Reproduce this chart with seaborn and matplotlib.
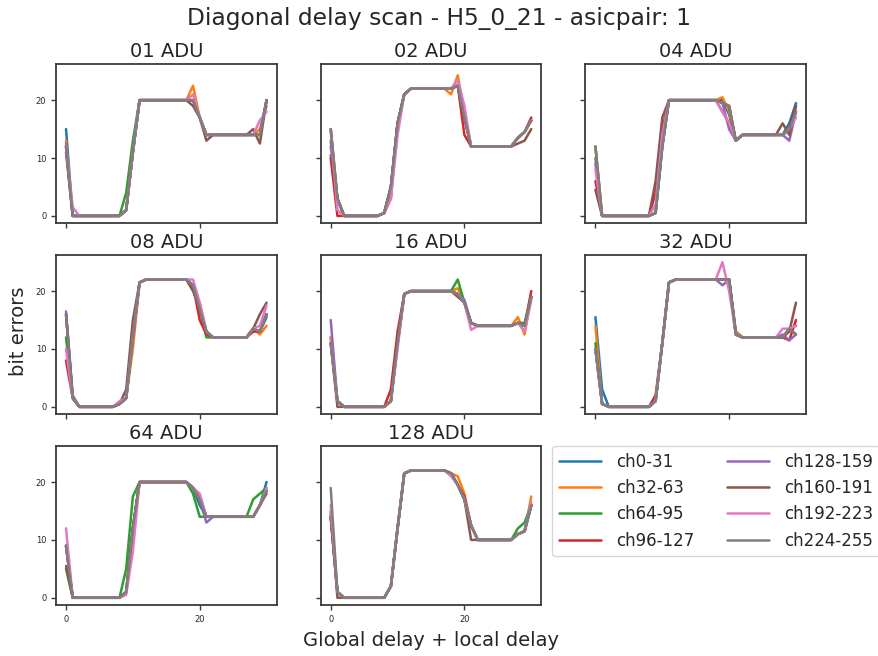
import matplotlib
matplotlib.use("Agg")
import matplotlib.pyplot as plt
import seaborn as sns
import pandas as pd

sns.set_style("ticks")
plt.rcParams['font.family'] = ['DejaVu Sans']

delays = list(range(31))
channels = ["ch0-31", "ch32-63", "ch64-95", "ch96-127",
            "ch128-159", "ch160-191", "ch192-223", "ch224-255"]
colors = ["#1f77b4", "#ff7f0e", "#2ca02c", "#d62728",
          "#9467bd", "#8c564b", "#e377c2", "#7f7f7f"]
titles = ["01 ADU", "02 ADU", "04 ADU", "08 ADU",
          "16 ADU", "32 ADU", "64 ADU", "128 ADU"]

# common (ch224-255) curve read for each amplitude
base_01 = [12, 0, 0, 0, 0, 0, 0, 0, 0, 1, 11, 20, 20, 20, 20, 20, 20, 20, 20, 20, 17, 14, 14, 14, 14, 14, 14, 14, 14, 14, 20]
base_02 = [15, 3, 0, 0, 0, 0, 0, 0, 0.5, 5, 16, 21, 22, 22, 22, 22, 22, 22, 22, 22.5, 17, 12, 12, 12, 12, 12, 12, 12, 13.5, 14.5, 16.5]
base_04 = [12, 0, 0, 0, 0, 0, 0, 0, 0, 0.5, 12, 20, 20, 20, 20, 20, 20, 20, 20, 19.5, 19, 13, 14, 14, 14, 14, 14, 14, 14, 15, 18]
base_08 = [16, 1.5, 0, 0, 0, 0, 0, 0, 0.5, 1.5, 12, 21.5, 22, 22, 22, 22, 22, 22, 22, 21, 17, 13, 12, 12, 12, 12, 12, 12, 13.5, 13, 16]
base_16 = [11, 1, 0, 0, 0, 0, 0, 0, 0, 1, 11, 19.5, 20, 20, 20, 20, 20, 20, 20, 19.5, 18, 14.5, 14, 14, 14, 14, 14, 14, 14.5, 14, 19]
base_32 = [10, 0.5, 0, 0, 0, 0, 0, 0, 0, 1, 11, 21.5, 22, 22, 22, 22, 22, 22, 22, 22, 22, 12.5, 12, 12, 12, 12, 12, 12, 12, 13.5, 12.5]
base_64 = [9, 0, 0, 0, 0, 0, 0, 0, 0, 1, 12, 20, 20, 20, 20, 20, 20, 20, 20, 19, 17, 14, 14, 14, 14, 14, 14, 14, 14, 16, 18.5]
base_128 = [19, 1, 0, 0, 0, 0, 0, 0, 0, 2, 12, 21.5, 22, 22, 22, 22, 22, 22, 21.5, 19.5, 17, 12.5, 10, 10, 10, 10, 10, 10, 11, 11.5, 16]

# points where a channel group departs from the common curve {group: {delay: errors}}
dev_01 = {0: {0: 15, 30: 20}, 1: {0: 13, 19: 22.5, 29: 15, 30: 19}, 2: {9: 4, 10: 13},
          3: {0: 11}, 4: {0: 12.5}, 5: {19: 19, 21: 13, 28: 15, 29: 12.5, 30: 20},
          6: {1: 1.5, 19: 21, 29: 16.5, 30: 18}, 7: {}}
dev_02 = {0: {0: 13}, 1: {18: 21, 19: 24.3, 20: 18}, 2: {0: 10.5},
          3: {0: 10, 1: 0, 9: 3, 20: 14, 30: 17}, 4: {0: 12, 19: 22.5},
          5: {28: 12.5, 29: 13, 30: 15}, 6: {1: 1, 9: 3, 10: 14, 19: 23.5, 20: 19}, 7: {}}
dev_04 = {0: {19: 20, 20: 17.5, 29: 16, 30: 19.5}, 1: {19: 20.5, 20: 18}, 2: {0: 10},
          3: {0: 6, 9: 4, 10: 15, 30: 19}, 4: {0: 9, 20: 15, 29: 13},
          5: {0: 4.5, 9: 6, 10: 17, 19: 18, 20: 16, 28: 16, 29: 14, 30: 19},
          6: {0: 8, 9: 2, 10: 14, 19: 18, 20: 16, 30: 17}, 7: {}}
dev_08 = {0: {30: 15.5}, 1: {10: 10, 20: 18, 29: 12.5, 30: 14}, 2: {0: 12, 19: 20.5, 21: 12},
          3: {0: 8, 20: 15, 21: 12.5, 28: 13}, 4: {0: 16.5, 1: 2},
          5: {9: 3, 10: 15, 19: 20, 29: 16, 30: 18},
          6: {0: 10, 8: 1, 19: 22, 20: 18, 29: 14, 30: 17.5}, 7: {}}
dev_16 = {0: {0: 12}, 1: {0: 12, 19: 20.5, 28: 15.5, 29: 12.5}, 2: {19: 22, 29: 14.5},
          3: {9: 3, 10: 13, 30: 20}, 4: {0: 15, 20: 18.5}, 5: {1: 0, 19: 19, 28: 14.5},
          6: {10: 10, 21: 13.3, 29: 13, 30: 18.5}, 7: {}}
dev_32 = {0: {0: 15.5, 1: 3, 21: 13, 30: 14}, 1: {0: 14, 21: 13}, 2: {0: 11},
          3: {9: 2, 29: 11.5, 30: 15}, 4: {19: 21, 28: 12.5, 29: 11.5},
          5: {29: 13, 30: 18}, 6: {19: 25, 20: 20, 28: 13.5, 29: 13.5, 30: 14}, 7: {}}
dev_64 = {0: {20: 16, 30: 20}, 1: {19: 19, 20: 17}, 2: {0: 5, 9: 5, 10: 17.5, 19: 18, 20: 14, 28: 17, 29: 18, 30: 19},
          3: {20: 17.5}, 4: {21: 13}, 5: {0: 5.5, 30: 18},
          6: {0: 12, 9: 0.5, 10: 8, 20: 18, 30: 19}, 7: {}}
dev_128 = {0: {0: 14}, 1: {0: 14.5, 19: 21, 20: 18, 30: 17.5}, 2: {0: 14, 28: 12, 29: 13},
           3: {0: 14, 20: 17.5}, 4: {0: 14}, 5: {0: 15, 1: 0, 21: 10},
           6: {0: 16, 18: 21, 30: 16.5}, 7: {}}

bases = [base_01, base_02, base_04, base_08, base_16, base_32, base_64, base_128]
devs = [dev_01, dev_02, dev_04, dev_08, dev_16, dev_32, dev_64, dev_128]

rows = []
for title, base, dev in zip(titles, bases, devs):
    for gi, ch in enumerate(channels):
        vals = list(base)
        for k, v in dev[gi].items():
            vals[k] = v
        for d, v in zip(delays, vals):
            rows.append({"adu": title, "channel": ch, "delay": d, "errors": v})
df = pd.DataFrame(rows)

plt.rcParams['axes.edgecolor'] = '#3a3a3a'
plt.rcParams['axes.linewidth'] = 1.3

fig, axes = plt.subplots(3, 3, sharex=True, sharey=True, figsize=(8.79, 6.56), dpi=100)
fig.subplots_adjust(left=56/879, right=806/879, top=1-64/656, bottom=1-605/656,
                    wspace=0.2, hspace=0.2)
axes[2, 2].remove()
flat = [axes[0, 0], axes[0, 1], axes[0, 2], axes[1, 0], axes[1, 1], axes[1, 2],
        axes[2, 0], axes[2, 1]]
palette = dict(zip(channels, colors))
for ax, title in zip(flat, titles):
    sub = df[df["adu"] == title]
    sns.lineplot(data=sub, x="delay", y="errors", hue="channel", hue_order=channels,
                 palette=palette, ax=ax, legend=False, linewidth=1.8)
    ax.set_title(title, fontsize=14, pad=5)
    ax.set_xlabel("")
    ax.set_ylabel("")
    ax.tick_params(labelsize=6, length=3.5, width=1, color='#3a3a3a')
    ax.set_xticks([0, 20])
    ax.set_yticks([0, 10, 20])

handles = flat[-1].get_lines()[:8]
flat[-1].legend(handles, channels, loc="upper left", bbox_to_anchor=(1.05, 1.0),
                borderaxespad=0, ncol=2, fontsize=12, handlelength=2.5,
                handletextpad=0.9, columnspacing=2.0, labelspacing=0.5)

fig.text(0.5, 1 - 19/656, "Diagonal delay scan - H5_0_21 - asicpair: 1",
         ha="center", va="center", fontsize=16.8)
fig.text(431/879, 1 - 640/656, "Global delay + local delay", ha="center", va="center", fontsize=14)
fig.text(19/879, 1 - 331/656, "bit errors", ha="center", va="center", rotation=90, fontsize=14)

fig.savefig("out.png", dpi=100)
